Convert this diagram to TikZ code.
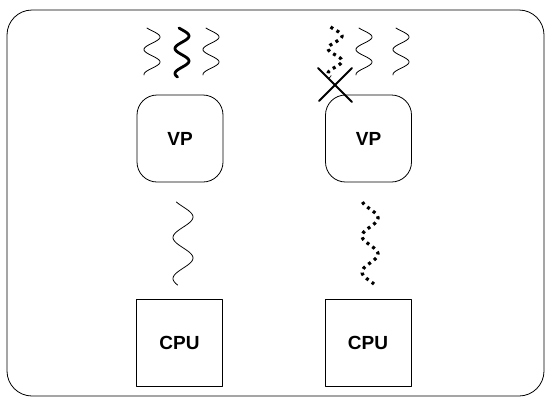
\documentclass[tikz,border=0pt]{standalone}
\usepackage{fontspec}
\setmainfont{Liberation Sans}
\usetikzlibrary{positioning}

% a vertical wiggly thread: centre x, top y, bottom y, amplitude, period, y of a right bulge
\newcommand{\thread}[6]{plot[variable=\t, domain=#2:#3, samples=60, smooth]
  ({#1+#4*cos((\t-#6)/#5*360)}, \t)}

\begin{document}
\begin{tikzpicture}[x=1pt, y=-1pt, line join=round, line cap=round,
    vpbox/.style={draw, line width=0.8pt, rounded corners=20pt, minimum width=86pt,
      minimum height=87pt, inner sep=0pt, font=\fontsize{19}{20}\selectfont\bfseries},
    cpubox/.style={draw, line width=0.8pt, minimum width=86pt, minimum height=87pt,
      inner sep=0pt, font=\fontsize{19}{20}\selectfont\bfseries},
    thin thread/.style={line width=0.8pt},
    thick thread/.style={line width=2.8pt},
    dotted thread/.style={line width=3.2pt, line cap=butt, dash pattern=on 3pt off 4pt}]
  \useasboundingbox (0,0) rectangle (546,397);
  \draw[line width=0.8pt, rounded corners=25pt] (7,10) rectangle (544,396);

  % the two virtual processors
  \node[vpbox] (vpL) at (180,138.5) {VP};
  \node[vpbox] (vpR) at (368.5,138.5) {VP};

  % the two CPUs
  \node[cpubox] (cpuL) at (179.5,342.5) {CPU};
  \node[cpubox] (cpuR) at (368,343) {CPU};

  % threads waiting above the VPs
  \draw[thin thread]  \thread{152}{28}{75}{8}{25}{37};
  \draw[thick thread] \thread{182}{28}{77}{7}{25}{36};
  \draw[thin thread]  \thread{211}{28}{75}{8}{25}{37};
  \draw[dotted thread] \thread{335}{27}{77}{7}{25}{36};
  \draw[thin thread]  \thread{364}{28}{75}{8}{25}{37};
  \draw[thin thread]  \thread{401}{28}{75}{8}{25}{37};

  % the cancelled one
  \draw[line width=1.8pt] (318,68) -- (352,102);
  \draw[line width=1.8pt] (352,68) -- (319,101);

  % threads running on the CPUs
  \draw[thin thread]   \thread{183}{202}{285}{10}{41}{217};
  \draw[dotted thread] \thread{370}{202}{284}{8}{36}{218};
\end{tikzpicture}
\end{document}
